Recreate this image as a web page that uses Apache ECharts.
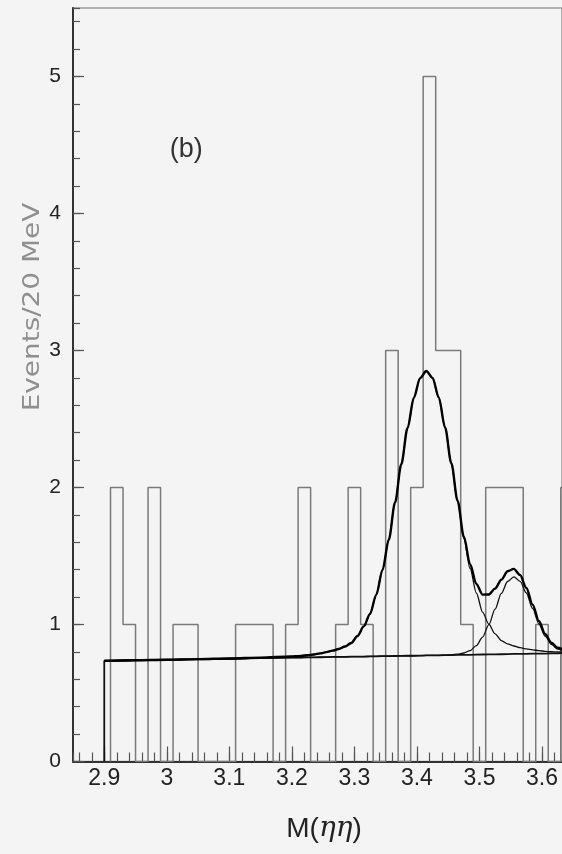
<!DOCTYPE html>
<html>
<head>
<meta charset="utf-8">
<script src="https://cdn.jsdelivr.net/npm/echarts@6/dist/echarts.min.js"></script>
<style>
html,body{margin:0;padding:0;background:#f4f4f4;}
#c{width:562px;height:854px;}
</style>
</head>
<body>
<div id="c"></div>
<script>
// ---- histogram: lower bin edges (GeV) and events per 20 MeV bin ----
const binLowEdges = [2.91,2.93,2.95,2.97,2.99,3.01,3.03,3.05,3.07,3.09,3.11,3.13,3.15,3.17,3.19,3.21,3.23,3.25,3.27,3.29,3.31,3.33,3.35,3.37,3.39,3.41,3.43,3.45,3.47,3.49,3.51,3.53,3.55,3.57,3.59,3.61,3.63];
const eventCounts  = [2,1,0,2,0,1,1,0,0,0,1,1,1,0,1,2,0,0,1,2,1,0,3,0,2,5,3,3,1,0,2,2,2,0,1,0,2];
const binWidth = 0.02;

// ---- fit curves ----
const fitMass = [2.90,2.95,3.00,3.05,3.10,3.15,3.20,
  3.205,3.215,3.225,3.235,3.245,3.255,3.265,3.275,3.285,3.295,3.305,3.315,3.325,3.335,3.345,3.355,3.365,3.375,3.385,3.395,3.405,3.415,3.425,3.435,
  3.445,3.455,3.465,3.475,3.485,3.495,3.505,3.515,3.525,3.535,3.545,3.555,3.565,3.575,3.585,3.595,3.605,3.615,3.625,3.635];
const fitBackground = [0.735,0.739,0.743,0.746,0.750,0.754,0.758,
  0.758,0.759,0.760,0.760,0.761,0.762,0.763,0.763,0.764,0.765,0.766,0.766,0.767,0.768,0.769,0.769,0.770,0.771,0.772,0.772,0.773,0.774,0.775,0.775,
  0.776,0.777,0.778,0.779,0.779,0.780,0.781,0.782,0.782,0.783,0.784,0.785,0.785,0.786,0.787,0.788,0.788,0.789,0.790,0.791];
const fitBgPlusPeak1 = [0.735,0.739,0.743,0.747,0.752,0.758,0.767,
  0.768,0.771,0.776,0.781,0.789,0.798,0.809,0.821,0.839,0.865,0.916,0.986,1.077,1.218,1.399,1.619,1.890,2.170,2.434,2.653,2.798,2.850,2.800,2.656,
  2.438,2.176,1.898,1.629,1.409,1.230,1.091,1.002,0.932,0.883,0.859,0.843,0.831,0.822,0.815,0.809,0.804,0.801,0.800,0.799];
const fitBgPlusPeak2 = [0.735,0.739,0.743,0.746,0.750,0.754,0.758,
  0.758,0.759,0.760,0.760,0.761,0.762,0.763,0.763,0.764,0.765,0.766,0.766,0.767,0.768,0.769,0.769,0.770,0.771,0.772,0.772,0.773,0.774,0.775,0.775,
  0.776,0.779,0.783,0.792,0.810,0.846,0.908,0.999,1.112,1.227,1.314,1.348,1.315,1.230,1.117,1.005,0.915,0.855,0.821,0.804];
const fitTotal = [0.735,0.739,0.743,0.747,0.752,0.758,0.767,
  0.768,0.771,0.776,0.781,0.789,0.798,0.809,0.821,0.839,0.865,0.916,0.986,1.077,1.218,1.399,1.619,1.890,2.170,2.434,2.653,2.798,2.850,2.800,2.656,
  2.438,2.178,1.903,1.642,1.440,1.296,1.218,1.219,1.262,1.327,1.389,1.406,1.361,1.266,1.145,1.026,0.931,0.867,0.831,0.812];

// ---- axis ranges (the visible window of the plot) ----
const xRange = [2.85, 3.632];
const yRange = [0, 5.5];

// ---- derived series data ----
const histOutline = [[binLowEdges[0], 0]];
binLowEdges.forEach((lo, i) => {
  const hi = +(lo + binWidth).toFixed(4);
  histOutline.push([lo, eventCounts[i]], [hi, eventCounts[i]]);
});
histOutline.push([+(binLowEdges[binLowEdges.length - 1] + binWidth).toFixed(4), 0]);
const pairs = arr => fitMass.map((m, i) => [m, arr[i]]);
const bgData = [[fitMass[0], 0]].concat(pairs(fitBackground));

const W = 562, H = 854;
const GRID = {left: 73, top: 8, right: 0, bottom: 92.5};
const gridW = W - GRID.left - GRID.right;
const gridH = H - GRID.top - GRID.bottom;
const FONT = "'Liberation Sans', Arial, sans-serif";

const chart = echarts.init(document.getElementById('c'), null, {renderer: 'canvas', width: W, height: H});

const option = {
  backgroundColor: '#f4f4f4',
  animation: false,
  grid: Object.assign({show: true, borderColor: '#9a9a9a', borderWidth: 1.5, backgroundColor: 'transparent'}, GRID),
  xAxis: [
    {
      type: 'value', min: xRange[0], max: xRange[1], minInterval: 0.1, maxInterval: 0.1, splitNumber: 8,
      axisLine: {show: true, onZero: false, lineStyle: {color: '#333', width: 2}},
      axisTick: {show: true, inside: true, length: 15, lineStyle: {color: '#555', width: 1.2}},
      axisLabel: {show: true, showMinLabel: false, showMaxLabel: false, margin: 6, color: '#222', fontSize: 23, fontFamily: FONT},
      splitLine: {show: false}
    },
    {
      type: 'value', position: 'top', offset: -gridH, min: xRange[0], max: xRange[1], minInterval: 0.02, maxInterval: 0.02, splitNumber: 40,
      axisLine: {show: false},
      axisTick: {show: true, inside: false, length: 9, lineStyle: {color: '#555', width: 1.2}},
      axisLabel: {show: false}, splitLine: {show: false}
    }
  ],
  yAxis: [
    {
      type: 'value', min: yRange[0], max: yRange[1], minInterval: 1, maxInterval: 1, splitNumber: 5,
      axisLine: {show: true, onZero: false, lineStyle: {color: '#333', width: 2}},
      axisTick: {show: true, inside: true, length: 11, lineStyle: {color: '#555', width: 1.2}},
      axisLabel: {show: true, showMaxLabel: false, margin: 12, color: '#222', fontSize: 21, fontFamily: FONT},
      splitLine: {show: false}
    },
    {
      type: 'value', position: 'right', offset: -gridW, min: yRange[0], max: yRange[1], minInterval: 0.2, maxInterval: 0.2, splitNumber: 27,
      axisLine: {show: false},
      axisTick: {show: true, inside: false, length: 7, lineStyle: {color: '#555', width: 1.2}},
      axisLabel: {show: false}, splitLine: {show: false}
    }
  ],
  series: [
    {
      name: 'Events', type: 'line', xAxisIndex: 0, yAxisIndex: 0, data: histOutline,
      symbol: 'none', lineStyle: {color: '#7a7a7a', width: 1.5}, z: 2
    },
    {
      name: 'Background', type: 'line', xAxisIndex: 0, yAxisIndex: 0, data: bgData,
      symbol: 'none', lineStyle: {color: '#111', width: 1.8}, z: 3
    },
    {
      name: 'Bg + peak 1', type: 'line', xAxisIndex: 0, yAxisIndex: 0, data: pairs(fitBgPlusPeak1),
      symbol: 'none', smooth: 0.3, smoothMonotone: 'x', lineStyle: {color: '#111', width: 1.3}, z: 3
    },
    {
      name: 'Bg + peak 2', type: 'line', xAxisIndex: 0, yAxisIndex: 0, data: pairs(fitBgPlusPeak2),
      symbol: 'none', smooth: 0.3, smoothMonotone: 'x', lineStyle: {color: '#111', width: 1.3}, z: 3
    },
    {
      name: 'Total fit', type: 'line', xAxisIndex: 0, yAxisIndex: 0, data: pairs(fitTotal),
      symbol: 'none', smooth: 0.3, smoothMonotone: 'x', lineStyle: {color: '#000', width: 2.4}, z: 4
    }
  ]
};
chart.setOption(option);

const bPos = chart.convertToPixel({xAxisIndex: 0, yAxisIndex: 0}, [3.031, 4.465]);
chart.setOption({
  graphic: [
    {
      type: 'text', x: 33, y: 307, rotation: Math.PI / 2, scaleX: 1.24, scaleY: 1,
      style: {text: 'Events/20 MeV', fill: '#8f8f8f', fontSize: 22.5, fontFamily: "'DejaVu Sans', sans-serif",
        align: 'center', verticalAlign: 'middle', textAlign: 'center', textVerticalAlign: 'middle'}
    },
    {
      type: 'text', x: 324, y: 829,
      style: {
        text: '{n|M(}{g|ηη}{n|)}', fill: '#222',
        align: 'center', verticalAlign: 'middle', textAlign: 'center', textVerticalAlign: 'middle',
        rich: {
          n: {fontSize: 28, fontFamily: FONT, fill: '#222'},
          g: {fontSize: 28, fontFamily: "'DejaVu Serif', serif", fontStyle: 'italic', fill: '#222'}
        }
      }
    },
    {
      type: 'text', x: bPos[0], y: bPos[1],
      style: {text: '(b)', fill: '#333', fontSize: 27, fontFamily: FONT,
        align: 'center', verticalAlign: 'middle', textAlign: 'center', textVerticalAlign: 'middle'}
    }
  ]
});
</script>
</body>
</html>
